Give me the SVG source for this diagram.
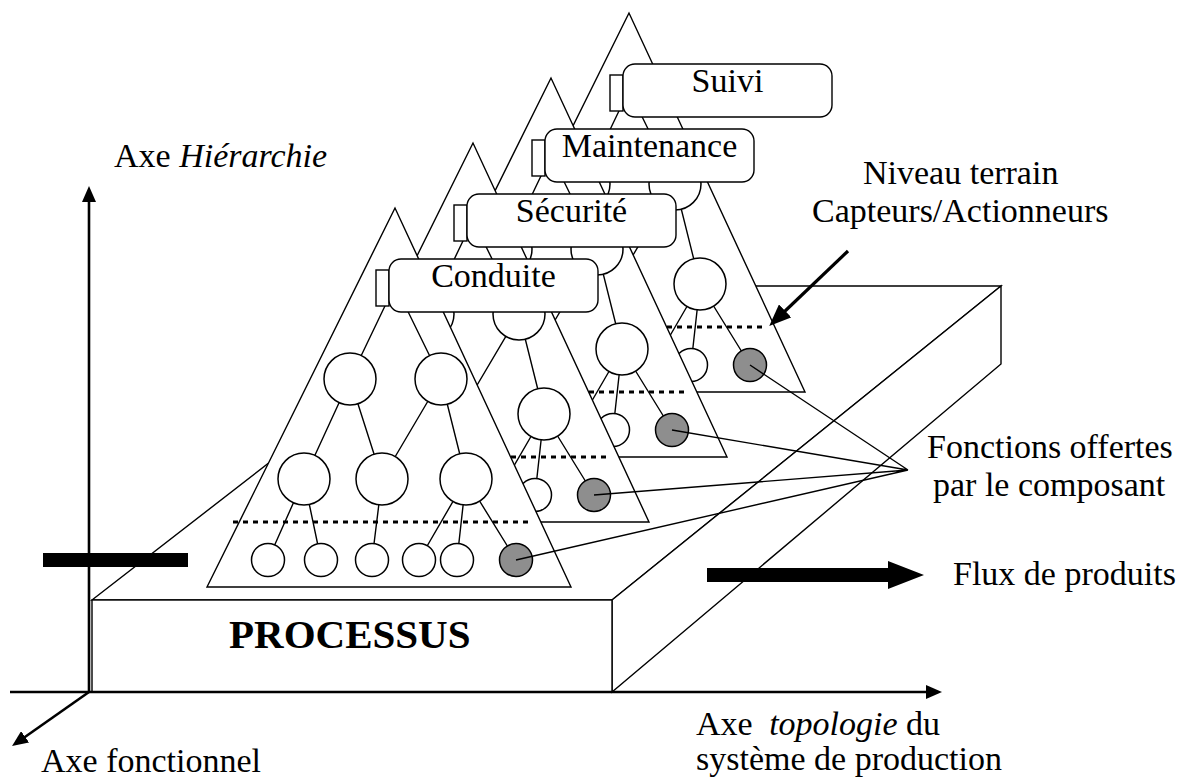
<svg xmlns="http://www.w3.org/2000/svg" xmlns:xlink="http://www.w3.org/1999/xlink" width="1185" height="782" viewBox="0 0 1185 782">
<style>
 .ln{stroke:#000;stroke-width:1.4;fill:none}
 .tri{fill:#fff;stroke:#000;stroke-width:1.4}
 .nd{fill:#fff;stroke:#000;stroke-width:1.5}
 .gy{fill:#8e8e8e;stroke:#000;stroke-width:1.5}
 .dash{stroke:#000;stroke-width:3;stroke-dasharray:5 5;fill:none}
 .box{fill:#fff;stroke:#000;stroke-width:1.4}
 .t{font-family:"Liberation Serif","Times New Roman",serif;font-size:34px;fill:#000}
 .lbl{text-anchor:middle}
 .ax{stroke:#000;stroke-width:2.6;fill:none}
 .it{font-style:italic}
</style>
<defs>
 <marker id="ah" markerUnits="userSpaceOnUse" markerWidth="16" markerHeight="14" refX="2" refY="7" orient="auto" viewBox="0 0 16 14"><path d="M0,0 L16,7 L0,14 z" fill="#000"/></marker>
 <marker id="ah2" markerUnits="userSpaceOnUse" markerWidth="22" markerHeight="18" refX="3" refY="9" orient="auto" viewBox="0 0 22 18"><path d="M0,0 L22,9 L0,18 z" fill="#000"/></marker>
 <g id="pyr">
  <polygon class="tri" points="0,0 -188,379 176,379"/>
  <path class="ln" d="M0,77 L-45,171 M0,77 L46,171 M-45,171 L-91,271 M-45,171 L-13,271 M46,171 L-13,271 M46,171 L71,271 M-91,271 L-127,352 M-91,271 L-74,352 M-13,271 L-23,352 M71,271 L24,352 M71,271 L62,352 M71,271 L121,352"/>
  <line class="dash" x1="-162" y1="314" x2="135" y2="314"/>
  <circle class="nd" cx="-45" cy="171" r="26"/>
  <circle class="nd" cx="46" cy="171" r="26"/>
  <circle class="nd" cx="-91" cy="271" r="26"/>
  <circle class="nd" cx="-13" cy="271" r="26"/>
  <circle class="nd" cx="71" cy="271" r="26"/>
  <circle class="nd" cx="-127" cy="352" r="16.5"/>
  <circle class="nd" cx="-74" cy="352" r="16.5"/>
  <circle class="nd" cx="-23" cy="352" r="16.5"/>
  <circle class="nd" cx="24" cy="352" r="16.5"/>
  <circle class="nd" cx="62" cy="352" r="16.5"/>
  <circle class="gy" cx="121" cy="352" r="16.5"/>
 </g>
 <g id="lab">
  <rect class="box" x="-19" y="62" width="13" height="36"/>
  <rect class="box" x="-6" y="51" width="209" height="53" rx="12"/>
 </g>
</defs>

<g id="processus">
 <polygon class="box" points="92,600 612,600 1001,286 497,286"/>
 <polygon class="box" points="612,600 1001,286 1001,364 612,692"/>
 <rect class="box" x="92" y="600" width="520" height="92"/>
 <text class="t" x="229" y="648" font-weight="bold" style="font-size:41px">PROCESSUS</text>
</g>

<g id="axes">
 <line class="ax" x1="89" y1="692" x2="89" y2="200" marker-end="url(#ah)"/>
 <line class="ax" x1="10" y1="692" x2="928" y2="692" marker-end="url(#ah)"/>
 <line class="ax" x1="89" y1="692" x2="23.5" y2="738" marker-end="url(#ah)"/>
 <rect id="flux-entree" x="43" y="553" width="145" height="14" fill="#000"/>
</g>

<g id="pyramide-suivi" transform="translate(629,13)">
 <use xlink:href="#pyr" href="#pyr"/>
 <use xlink:href="#lab" href="#lab"/>
 <text class="t lbl" x="98.5" y="79">Suivi</text>
</g>
<g id="pyramide-maintenance" transform="translate(551,78)">
 <use xlink:href="#pyr" href="#pyr"/>
 <use xlink:href="#lab" href="#lab"/>
 <text class="t lbl" x="98.5" y="79">Maintenance</text>
</g>
<g id="pyramide-securite" transform="translate(473,143)">
 <use xlink:href="#pyr" href="#pyr"/>
 <use xlink:href="#lab" href="#lab"/>
 <text class="t lbl" x="98.5" y="79">Sécurité</text>
</g>
<g id="pyramide-conduite" transform="translate(395,208)">
 <use xlink:href="#pyr" href="#pyr"/>
 <use xlink:href="#lab" href="#lab"/>
 <text class="t lbl" x="98.5" y="79">Conduite</text>
</g>

<g id="connecteurs">
 <path class="ln" d="M516,560 L908,470 M594,495 L908,470 M672,430 L908,470 M750,365 L908,470"/>
 <line stroke="#000" stroke-width="3.2" x1="848" y1="251" x2="783" y2="313" marker-end="url(#ah2)"/>
 <polygon id="flux-sortie" points="707,568 888,568 888,561 924,575 888,589 888,582 707,582" fill="#000"/>
</g>

<g id="textes">
 <text class="t" x="114" y="167">Axe <tspan class="it">Hiérarchie</tspan></text>
 <text class="t" x="863" y="184">Niveau terrain</text>
 <text class="t" x="812" y="222">Capteurs/Actionneurs</text>
 <text class="t" x="927" y="458">Fonctions offertes</text>
 <text class="t" x="933" y="496">par le composant</text>
 <text class="t" x="953" y="585">Flux de produits</text>
 <text class="t" x="696" y="735">Axe <tspan class="it" dx="8">topologie</tspan> du</text>
 <text class="t" x="696" y="770">système de production</text>
 <text class="t" x="41" y="772">Axe fonctionnel</text>
</g>
</svg>
